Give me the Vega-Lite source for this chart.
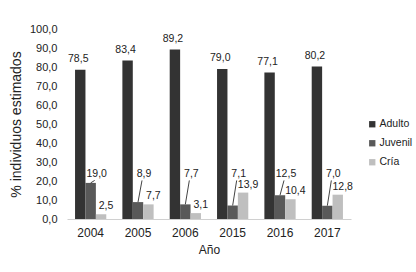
{
  "$schema": "https://vega.github.io/schema/vega-lite/v6.json",
  "autosize": "none",
  "width": 284,
  "height": 190,
  "padding": {"left": 67, "top": 29, "right": 65, "bottom": 53},
  "background": "white",
  "config": {
    "view": {"stroke": null},
    "font": "Liberation Sans",
    "locale": {"number": {"decimal": ",", "thousands": ".", "grouping": [3], "currency": ["", " €"]}},
    "axis": {"grid": false, "ticks": false, "labelColor": "#222222", "titleColor": "#222222", "titleFontWeight": "normal"},
    "axisY": {"labelOverlap": false, "tickCount": 11}
  },
  "data": {
    "values": [
      {"year": "2004", "cat": "Adulto", "v": 78.5},
      {"year": "2004", "cat": "Juvenil", "v": 19.0},
      {"year": "2004", "cat": "Cría", "v": 2.5},
      {"year": "2005", "cat": "Adulto", "v": 83.4},
      {"year": "2005", "cat": "Juvenil", "v": 8.9},
      {"year": "2005", "cat": "Cría", "v": 7.7},
      {"year": "2006", "cat": "Adulto", "v": 89.2},
      {"year": "2006", "cat": "Juvenil", "v": 7.7},
      {"year": "2006", "cat": "Cría", "v": 3.1},
      {"year": "2015", "cat": "Adulto", "v": 79.0},
      {"year": "2015", "cat": "Juvenil", "v": 7.1},
      {"year": "2015", "cat": "Cría", "v": 13.9},
      {"year": "2016", "cat": "Adulto", "v": 77.1},
      {"year": "2016", "cat": "Juvenil", "v": 12.5},
      {"year": "2016", "cat": "Cría", "v": 10.4},
      {"year": "2017", "cat": "Adulto", "v": 80.2},
      {"year": "2017", "cat": "Juvenil", "v": 7.0},
      {"year": "2017", "cat": "Cría", "v": 12.8}
    ]
  },
  "encoding": {
    "x": {
      "field": "year", "type": "nominal",
      "scale": {"paddingInner": 0.34, "paddingOuter": 0.17},
      "axis": {"title": "Año", "labelAngle": 0, "labelFontSize": 12, "labelPadding": 8, "titleFontSize": 12, "titlePadding": 6, "domainColor": "#d0d0d0", "domainWidth": 1}
    },
    "y": {
      "field": "v", "type": "quantitative",
      "scale": {"domain": [0, 100], "nice": false},
      "axis": {"title": "% individuos estimados", "values": [0,10,20,30,40,50,60,70,80,90,100], "format": ".1f", "labelOverlap": false, "domain": false, "labelFontSize": 11, "labelPadding": 10, "titleFontSize": 14, "titlePadding": 6}
    }
  },
  "layer": [
    {
      "mark": {"type": "bar"},
      "encoding": {
        "xOffset": {"field": "cat", "type": "nominal", "sort": ["Adulto", "Juvenil", "Cría"], "scale": {"domain": ["Adulto", "Juvenil", "Cría"], "paddingInner": 0, "paddingOuter": 0}},
        "color": {
          "field": "cat", "type": "nominal", "sort": ["Adulto", "Juvenil", "Cría"],
          "scale": {"domain": ["Adulto", "Juvenil", "Cría"], "range": ["#333333", "#595959", "#bfbfbf"]},
          "legend": {"title": null, "orient": "none", "legendX": 300, "legendY": 90, "symbolType": "square", "symbolSize": 40, "symbolStrokeWidth": 0, "labelFontSize": 10.5, "labelColor": "#222222", "rowPadding": 8, "labelOffset": 2}
        }
      }
    },
    {
      "transform": [{"filter": "datum.cat === 'Adulto'"}],
      "mark": {"type": "text", "baseline": "middle", "align": "center", "dy": -11, "dx": -2, "fontSize": 10.5, "color": "#222222"},
      "encoding": {
        "xOffset": {"field": "cat", "type": "nominal", "scale": {"domain": ["Adulto", "Juvenil", "Cría"], "paddingInner": 0, "paddingOuter": 0}},
        "text": {"field": "v", "type": "quantitative", "format": ".1f"}
      }
    },
    {
      "transform": [{"filter": "datum.cat === 'Cría'"}],
      "mark": {"type": "text", "baseline": "middle", "align": "center", "dy": -8, "dx": 5, "fontSize": 10.5, "color": "#222222"},
      "encoding": {
        "xOffset": {"field": "cat", "type": "nominal", "scale": {"domain": ["Adulto", "Juvenil", "Cría"], "paddingInner": 0, "paddingOuter": 0}},
        "text": {"field": "v", "type": "quantitative", "format": ".1f"}
      }
    },
    {
      "transform": [{"filter": "datum.cat === 'Juvenil'"}],
      "mark": {"type": "text", "baseline": "middle", "align": "center", "dx": 6, "fontSize": 10.5, "color": "#222222"},
      "encoding": {
        "y": {"datum": 23.7},
        "text": {"field": "v", "type": "quantitative", "format": ".1f"}
      }
    },
    {
      "transform": [{"filter": "datum.cat === 'Juvenil'"}],
      "mark": {"type": "rule", "color": "#444444", "strokeWidth": 1, "x2Offset": 4},
      "encoding": {
        "x": {"field": "year", "type": "nominal", "bandPosition": 0.5},
        "x2": {"field": "year", "bandPosition": 0.5},
        "y2": {"datum": 20.3}
      }
    }
  ]
}
